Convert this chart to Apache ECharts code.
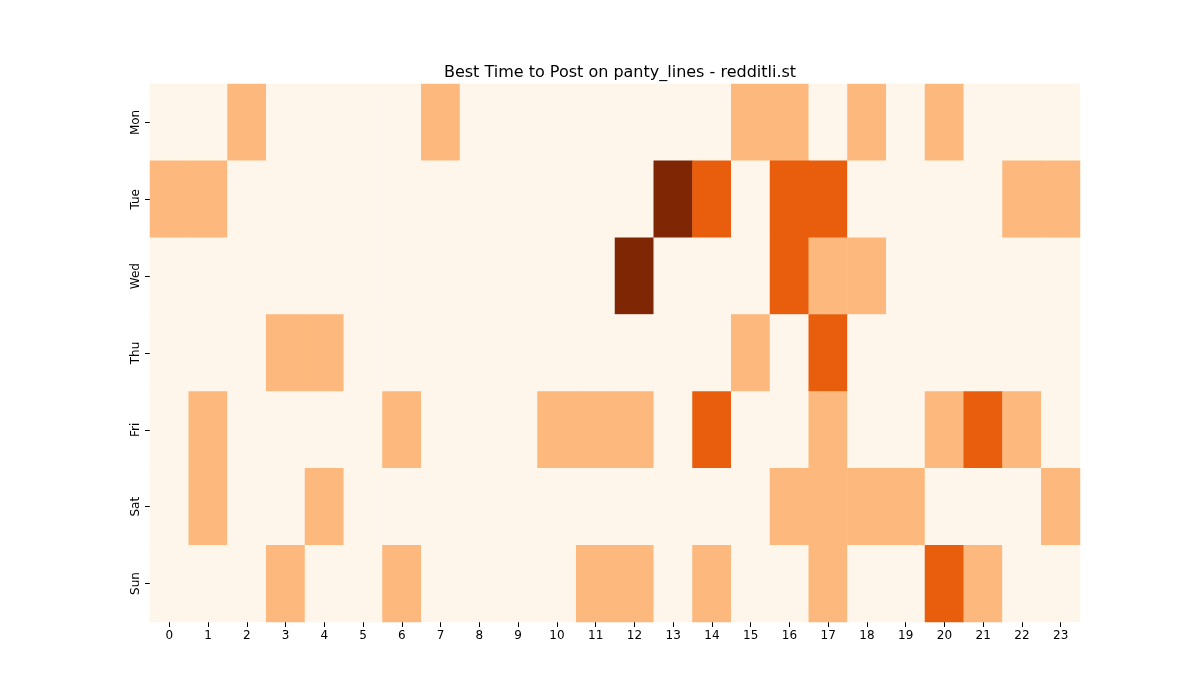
<!DOCTYPE html>
<html><head><meta charset="utf-8">
<script src="https://cdn.jsdelivr.net/npm/echarts@6/dist/echarts.min.js"></script>
<style>html,body{margin:0;padding:0;background:#fff}#c{width:1200px;height:700px}</style>
</head><body><div id="c"></div>
<script>
const hours = ['0','1','2','3','4','5','6','7','8','9','10','11','12','13','14','15','16','17','18','19','20','21','22','23'];
const days = ['Mon','Tue','Wed','Thu','Fri','Sat','Sun'];
const mon = [0,0,1,0,0,0,0,1,0,0,0,0,0,0,0,1,1,0,1,0,1,0,0,0];
const tue = [1,1,0,0,0,0,0,0,0,0,0,0,0,3,2,0,2,2,0,0,0,0,1,1];
const wed = [0,0,0,0,0,0,0,0,0,0,0,0,3,0,0,0,2,1,1,0,0,0,0,0];
const thu = [0,0,0,1,1,0,0,0,0,0,0,0,0,0,0,1,0,2,0,0,0,0,0,0];
const fri = [0,1,0,0,0,0,1,0,0,0,1,1,1,0,2,0,0,1,0,0,1,2,1,0];
const sat = [0,1,0,0,1,0,0,0,0,0,0,0,0,0,0,0,1,1,1,1,0,0,0,1];
const sun = [0,0,0,1,0,0,1,0,0,0,0,1,1,0,1,0,0,1,0,0,2,1,0,0];
const rows = [mon,tue,wed,thu,fri,sat,sun];
const data = [];
rows.forEach((r,d)=>r.forEach((v,h)=>data.push([h,d,v])));
const chart = echarts.init(document.getElementById('c'));
const ff = 'DejaVu Sans';
chart.setOption({
  animation:false,
  title:{text:'Best Time to Post on panty_lines - redditli.st',left:615,top:60,textAlign:'center',textStyle:{fontFamily:ff,fontSize:16,fontWeight:'normal',color:'#000'}},
  graphic:[{type:'text',left:550,top:337,style:{text:'redditli.st',fontFamily:ff,fontSize:26,fill:'rgba(150,130,120,0.5)'}}],
  grid:{left:150,right:120,top:84,bottom:78},
  xAxis:{type:'category',data:hours,axisLine:{show:false},axisTick:{show:true,alignWithLabel:true,length:5,lineStyle:{color:'#000'}},axisLabel:{fontFamily:ff,fontSize:12,color:'#000'},splitLine:{show:false}},
  yAxis:{type:'category',data:days,inverse:true,axisLine:{show:false},axisTick:{show:true,alignWithLabel:true,length:5,lineStyle:{color:'#000'}},axisLabel:{rotate:90,fontFamily:ff,fontSize:12,color:'#000'},splitLine:{show:false}},
  visualMap:{type:'piecewise',show:false,dimension:2,pieces:[{value:0,color:'#fef5eb'},{value:1,color:'#fdb97d'},{value:2,color:'#e95e0d'},{value:3,color:'#7f2704'}]},
  series:[{type:'heatmap',data:data,itemStyle:{borderWidth:0},emphasis:{disabled:true}}]
});
</script></body></html>
